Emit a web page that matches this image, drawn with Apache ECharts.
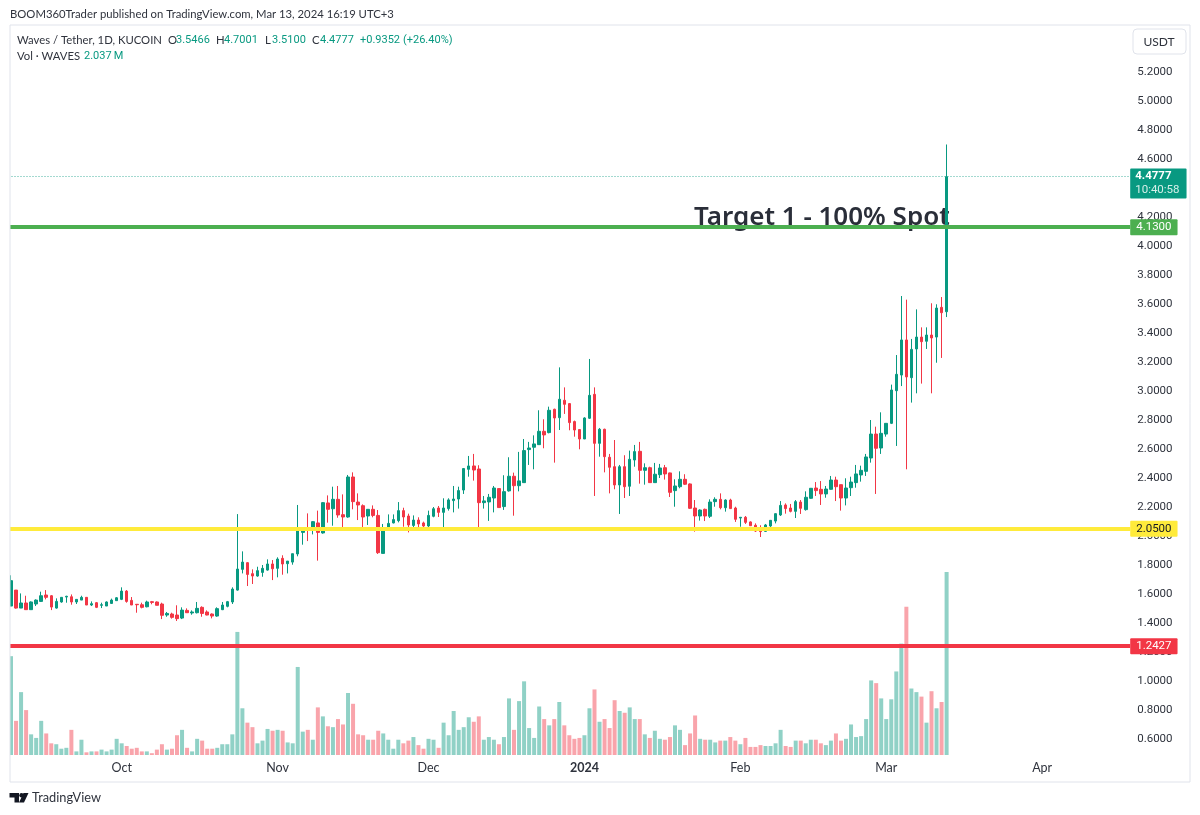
<!DOCTYPE html>
<html>
<head>
<meta charset="utf-8">
<title>Waves / Tether</title>
<script src="https://cdn.jsdelivr.net/npm/echarts@6/dist/echarts.min.js"></script>
<style>
  html, body { margin: 0; padding: 0; background: #fff; }
  #main { width: 1200px; height: 815px; }
</style>
</head>
<body>
<div id="main"></div>
<script>
const opens = [
  1.517,1.627,1.503,1.538,1.492,1.531,1.549,1.593,1.588,1.503,
  1.545,1.579,1.581,1.545,1.558,1.577,1.524,1.540,1.522,1.517,
  1.535,1.554,1.563,1.620,1.556,1.529,1.526,1.512,1.547,1.545,
  1.531,1.455,1.462,1.455,1.434,1.487,1.469,1.471,1.508,1.476,
  1.462,1.448,1.492,1.515,1.545,1.627,1.770,1.816,1.740,1.724,
  1.749,1.765,1.807,1.777,1.846,1.809,1.820,1.876,2.025,2.050,
  2.039,2.090,2.021,2.228,2.188,2.253,2.147,2.131,2.407,2.234,
  2.209,2.138,2.184,2.142,1.880,2.053,2.090,2.106,2.175,2.138,
  2.073,2.110,2.090,2.069,2.136,2.193,2.163,2.189,2.244,2.255,
  2.317,2.460,2.483,2.462,2.230,2.235,2.262,2.327,2.203,2.311,
  2.412,2.347,2.368,2.596,2.612,2.630,2.722,2.713,2.874,2.816,
  2.936,2.913,2.789,2.734,2.669,2.812,2.977,2.639,2.736,2.543,
  2.478,2.352,2.478,2.343,2.524,2.584,2.453,2.471,2.368,2.423,
  2.471,2.435,2.313,2.340,2.391,2.359,2.193,2.138,2.184,2.136,
  2.237,2.253,2.195,2.248,2.193,2.124,2.129,2.097,2.074,2.039,
  2.032,2.069,2.103,2.145,2.214,2.193,2.170,2.234,2.182,2.260,
  2.331,2.322,2.290,2.322,2.386,2.354,2.262,2.333,2.368,2.421,
  2.446,2.538,2.703,2.607,2.703,2.777,3.002,3.110,3.352,3.092,
  3.290,3.372,3.343,3.386,3.372,3.577,3.5466
];
const closes = [
  1.692,1.503,1.538,1.492,1.545,1.558,1.588,1.577,1.510,1.549,
  1.577,1.584,1.545,1.563,1.577,1.524,1.533,1.508,1.526,1.545,
  1.558,1.574,1.620,1.549,1.524,1.526,1.508,1.545,1.542,1.522,
  1.453,1.466,1.439,1.430,1.489,1.471,1.476,1.501,1.466,1.455,
  1.448,1.499,1.524,1.547,1.634,1.772,1.820,1.735,1.724,1.761,
  1.777,1.807,1.774,1.841,1.807,1.827,1.878,2.046,2.053,2.046,
  2.099,2.025,2.230,2.184,2.253,2.145,2.131,2.407,2.237,2.214,
  2.131,2.184,2.142,1.885,2.057,2.087,2.113,2.175,2.131,2.076,
  2.110,2.083,2.069,2.142,2.188,2.163,2.193,2.249,2.255,2.313,
  2.465,2.483,2.455,2.230,2.242,2.267,2.331,2.196,2.306,2.412,
  2.347,2.380,2.589,2.607,2.635,2.722,2.697,2.867,2.814,2.943,
  2.908,2.782,2.731,2.669,2.814,2.970,2.639,2.736,2.547,2.474,
  2.352,2.478,2.340,2.529,2.582,2.453,2.471,2.368,2.426,2.469,
  2.428,2.301,2.345,2.391,2.357,2.191,2.138,2.179,2.138,2.234,
  2.253,2.195,2.248,2.189,2.115,2.129,2.094,2.071,2.034,2.030,
  2.076,2.108,2.154,2.211,2.189,2.170,2.237,2.191,2.267,2.329,
  2.313,2.290,2.324,2.386,2.340,2.262,2.331,2.372,2.428,2.453,
  2.545,2.703,2.605,2.708,2.777,3.007,3.115,3.352,3.097,3.287,
  3.372,3.340,3.386,3.366,3.572,3.540,4.4777
];
const highs = [
  1.729,1.627,1.604,1.588,1.549,1.563,1.616,1.627,1.593,1.570,
  1.579,1.588,1.597,1.563,1.588,1.579,1.549,1.545,1.540,1.549,
  1.568,1.579,1.646,1.627,1.579,1.529,1.540,1.554,1.552,1.549,
  1.540,1.476,1.471,1.522,1.508,1.501,1.487,1.545,1.515,1.487,
  1.466,1.508,1.545,1.552,1.646,2.151,1.894,1.820,1.770,1.788,
  1.800,1.839,1.834,1.853,1.867,1.827,1.878,2.214,2.055,2.156,
  2.103,2.175,2.234,2.280,2.340,2.345,2.287,2.421,2.439,2.294,
  2.218,2.186,2.211,2.179,2.083,2.149,2.149,2.234,2.195,2.154,
  2.142,2.129,2.099,2.175,2.200,2.207,2.260,2.260,2.345,2.340,
  2.469,2.552,2.566,2.488,2.276,2.290,2.345,2.329,2.419,2.543,
  2.437,2.580,2.669,2.649,2.694,2.867,2.805,2.892,2.878,3.163,
  3.025,2.915,2.796,2.736,2.819,3.221,3.025,2.745,2.740,2.566,
  2.662,2.490,2.557,2.589,2.628,2.649,2.501,2.478,2.504,2.497,
  2.490,2.437,2.391,2.446,2.426,2.363,2.248,2.184,2.189,2.253,
  2.267,2.294,2.253,2.257,2.202,2.129,2.138,2.101,2.087,2.074,
  2.083,2.110,2.156,2.241,2.225,2.221,2.248,2.248,2.308,2.331,
  2.372,2.379,2.345,2.414,2.409,2.354,2.398,2.409,2.490,2.485,
  2.566,2.800,2.754,2.853,2.777,3.044,3.248,3.655,3.630,3.359,
  3.563,3.439,3.439,3.605,3.598,3.648,4.7001
];
const lows = [
  1.517,1.499,1.503,1.492,1.492,1.517,1.545,1.563,1.489,1.499,
  1.540,1.540,1.526,1.531,1.558,1.524,1.517,1.503,1.503,1.517,
  1.531,1.554,1.558,1.540,1.524,1.471,1.501,1.508,1.529,1.522,
  1.427,1.443,1.430,1.414,1.427,1.469,1.457,1.466,1.443,1.453,
  1.432,1.443,1.489,1.508,1.531,1.623,1.742,1.655,1.669,1.719,
  1.719,1.761,1.696,1.715,1.733,1.742,1.802,1.860,1.940,1.965,
  2.011,1.830,2.016,2.092,2.071,2.126,2.039,2.126,2.184,2.110,
  2.039,2.076,2.129,1.876,1.880,2.046,2.087,2.094,2.064,2.025,
  2.037,2.053,2.050,2.050,2.129,2.131,2.053,2.175,2.163,2.189,
  2.290,2.409,2.382,2.051,2.189,2.104,2.163,2.196,2.180,2.306,
  2.140,2.308,2.368,2.490,2.460,2.628,2.605,2.708,2.506,2.731,
  2.842,2.729,2.685,2.598,2.669,2.807,2.276,2.547,2.439,2.294,
  2.322,2.152,2.262,2.276,2.478,2.361,2.354,2.368,2.368,2.400,
  2.389,2.269,2.202,2.329,2.352,2.186,2.030,2.106,2.103,2.124,
  2.202,2.184,2.168,2.186,2.097,2.064,2.083,2.069,2.028,1.993,
  2.028,2.037,2.087,2.138,2.154,2.163,2.124,2.152,2.175,2.257,
  2.276,2.214,2.264,2.320,2.241,2.175,2.211,2.276,2.333,2.375,
  2.414,2.506,2.290,2.566,2.685,2.772,2.621,3.034,2.460,2.920,
  2.984,3.051,3.290,2.984,3.195,3.228,3.5100
];
// volume in millions of WAVES
const volumes = [
  1.10,.38,.70,.50,.23,.19,.38,.24,.13,.12,
  .07,.08,.28,.04,.17,.03,.04,.04,.06,.04,
  .06,.18,.13,.10,.07,.08,.04,.04,.02,.06,
  .12,.06,.07,.22,.28,.08,.04,.18,.16,.07,
  .07,.08,.12,.12,.23,1.37,.52,.36,.31,.13,
  .16,.29,.27,.28,.27,.14,.13,.98,.26,.28,
  .17,.53,.43,.32,.31,.40,.34,.69,.57,.23,
  .22,.17,.17,.27,.24,.17,.07,.17,.13,.16,
  .20,.11,.07,.18,.17,.08,.36,.22,.49,.28,
  .31,.42,.37,.43,.17,.20,.17,.12,.20,.63,
  .28,.60,.82,.30,.19,.54,.40,.33,.40,.59,
  .33,.22,.18,.19,.22,.52,.73,.37,.40,.30,
  .61,.49,.47,.53,.40,.40,.23,.19,.27,.18,
  .17,.20,.33,.28,.11,.24,.44,.18,.17,.17,
  .14,.16,.16,.20,.16,.12,.19,.09,.09,.11,
  .10,.10,.13,.28,.10,.09,.16,.16,.13,.17,
  .17,.13,.11,.16,.24,.16,.18,.34,.20,.21,
  .40,.83,.80,.63,.40,.62,.93,1.24,1.65,.74,
  .70,.65,.36,.71,.52,.59,2.037
];
const monthTicks = {
  '2023-10-01': 'Oct',
  '2023-11-01': 'Nov',
  '2023-12-01': 'Dec',
  '2024-01-01': '{bold|2024}',
  '2024-02-01': 'Feb',
  '2024-03-01': 'Mar',
  '2024-04-01': 'Apr'
};
const levelTarget = 4.13;
const levelSupport = 2.05;
const levelStop = 1.2427;
const lastClose = 4.4777;

const UP = '#089981';
const DOWN = '#f23645';
const INK = '#2f333d';
const FRAME = '#e0e3eb';
const TEXT_FONT = 'Lato, sans-serif';
const NUM_FONT = 'Roboto, sans-serif';

const dates = [];
for (let i = 0; i < 223; i++) {
  dates.push(new Date(Date.UTC(2023, 8, 9 + i)).toISOString().slice(0, 10));
}
const candles = opens.map((o, i) => [o, closes[i], lows[i], highs[i]]);
const volumeBars = volumes.map((v, i) => ({
  value: v,
  itemStyle: { color: closes[i] >= opens[i] ? UP : DOWN }
}));

function levelLine (value, color, textColor) {
  return {
    yAxis: value,
    lineStyle: { color: color, width: 4, type: 'solid' },
    label: {
      show: true,
      position: 'end',
      distance: 0,
      formatter: value.toFixed(4),
      backgroundColor: color,
      color: textColor,
      fontFamily: NUM_FONT,
      fontSize: 11.5,
      padding: [2, 6, 2, 6],
      borderRadius: 1
    }
  };
}

function headText (x, y, text, color, extra) {
  return {
    type: 'text',
    silent: true,
    z: 20,
    style: Object.assign({
      x: x,
      y: y,
      text: text,
      fill: color || INK,
      font: '11.3px ' + TEXT_FONT,
      textVerticalAlign: 'middle'
    }, extra || {})
  };
}

function numText (x, y, text) {
  return headText(x, y, text, UP, { font: '11px ' + NUM_FONT });
}

const chart = echarts.init(document.getElementById('main'), null, { renderer: 'canvas' });
chart.setOption({
  animation: false,
  backgroundColor: '#ffffff',
  grid: [
    { left: 8.5, width: 1121.7, top: 72, height: 667 },
    { left: 8.5, width: 1121.7, top: 572, height: 183 }
  ],
  xAxis: [
    { type: 'category', gridIndex: 0, data: dates, show: false },
    {
      type: 'category',
      gridIndex: 1,
      data: dates,
      axisLine: { show: false },
      axisTick: { show: false },
      axisLabel: {
        interval: (index, value) => monthTicks[value] !== undefined,
        formatter: (value) => monthTicks[value] || '',
        color: INK,
        fontFamily: TEXT_FONT,
        fontSize: 12.5,
        margin: 6,
        rich: { bold: { fontWeight: 'bold', fontFamily: TEXT_FONT, fontSize: 12.5, color: INK } }
      }
    }
  ],
  yAxis: [
    {
      type: 'value',
      gridIndex: 0,
      position: 'right',
      min: 0.6,
      max: 5.2,
      interval: 0.2,
      axisLine: { show: false },
      axisTick: { show: false },
      splitLine: { show: false },
      axisLabel: {
        formatter: (value) => value.toFixed(4),
        color: INK,
        fontFamily: NUM_FONT,
        fontSize: 11.5,
        margin: 7,
        padding: [2, 0, 0, 0]
      }
    },
    { type: 'value', gridIndex: 1, min: 0, max: 2.037, show: false }
  ],
  series: [
    {
      // levels sit under the candles and the volume bars
      type: 'line',
      xAxisIndex: 0,
      yAxisIndex: 0,
      data: [],
      z: 1,
      silent: true,
      markLine: {
        silent: true,
        symbol: 'none',
        animation: false,
        data: [
          levelLine(levelTarget, '#4caf50', '#ffffff'),
          levelLine(levelSupport, '#ffeb3b', '#131722'),
          levelLine(levelStop, DOWN, '#ffffff'),
          {
            yAxis: lastClose,
            lineStyle: { color: 'rgba(8,153,129,0.75)', width: 1, type: [1, 2] },
            label: {
              show: true,
              position: 'end',
              distance: 0,
              offset: [0, 7],
              formatter: '{a|' + lastClose.toFixed(4) + '}\n{b|10:40:58}',
              backgroundColor: UP,
              padding: [1, 7, 1, 5],
              borderRadius: 1,
              rich: {
                a: { color: '#ffffff', fontFamily: NUM_FONT, fontSize: 11.5, fontWeight: 'bold', lineHeight: 14 },
                b: { color: '#d5efe9', fontFamily: NUM_FONT, fontSize: 11.5, lineHeight: 14 }
              }
            }
          }
        ]
      }
    },
    {
      type: 'candlestick',
      name: 'WAVESUSDT',
      xAxisIndex: 0,
      yAxisIndex: 0,
      data: candles,
      barWidth: 3,
      z: 3,
      itemStyle: { color: UP, color0: DOWN, borderColor: UP, borderColor0: DOWN, borderWidth: 1 }
    },
    {
      type: 'bar',
      name: 'Vol',
      xAxisIndex: 1,
      yAxisIndex: 1,
      data: volumeBars,
      barWidth: 4,
      z: 3,
      itemStyle: { opacity: 0.45 }
    }
  ],
  graphic: [
    {
      // page margin left of the pane hides the overhang of the category band
      type: 'rect',
      silent: true,
      z: 9,
      shape: { x: 0, y: 20, width: 10, height: 770 },
      style: { fill: '#ffffff' }
    },
    {
      type: 'rect',
      silent: true,
      z: 10,
      shape: { x: 10, y: 25, width: 1180, height: 757 },
      style: { fill: 'none', stroke: FRAME, lineWidth: 1 }
    },
    {
      type: 'rect',
      silent: true,
      z: 10,
      shape: { x: 1133, y: 29, width: 53, height: 25, r: 4 },
      style: { fill: '#ffffff', stroke: FRAME, lineWidth: 1 }
    },
    headText(1159, 42, 'USDT', INK, { textAlign: 'center', font: '12px ' + TEXT_FONT }),
    headText(10, 14, 'BOOM360Trader published on TradingView.com, Mar 13, 2024 16:19 UTC+3', INK),
    headText(17, 40, 'Waves / Tether, 1D, KUCOIN', INK),
    headText(168, 40, 'O', INK),
    numText(176, 40, '3.5466'),
    headText(216, 40, 'H', INK),
    numText(224, 40, '4.7001'),
    headText(265, 40, 'L', INK),
    numText(272, 40, '3.5100'),
    headText(312, 40, 'C', INK),
    numText(320, 40, '4.4777'),
    numText(360, 40, '+0.9352'),
    numText(403, 40, '(+26.40%)'),
    headText(17, 56, 'Vol \u00b7 WAVES', INK),
    numText(84, 56, '2.037\u2009M'),
    {
      type: 'text',
      silent: true,
      z: 2,
      style: {
        x: 694,
        y: 218,
        text: 'Target 1 - 100% Spot',
        fill: '#2a2e39',
        font: '600 26px "Noto Sans", sans-serif',
        textVerticalAlign: 'middle'
      }
    },
    // TradingView mark
    {
      type: 'polygon',
      silent: true,
      z: 20,
      shape: { points: [[9.5, 793], [19, 793], [19, 802.5], [14.5, 802.5], [14.5, 797.5], [9.5, 797.5]] },
      style: { fill: '#131722' }
    },
    {
      type: 'circle',
      silent: true,
      z: 20,
      shape: { cx: 21.5, cy: 795.2, r: 2.2 },
      style: { fill: '#131722' }
    },
    {
      type: 'polygon',
      silent: true,
      z: 20,
      shape: { points: [[23.5, 793], [28.5, 793], [24, 802.5], [19, 802.5]] },
      style: { fill: '#131722' }
    },
    headText(32, 798, 'TradingView', INK, { font: '12.8px ' + TEXT_FONT })
  ]
});
</script>
</body>
</html>
